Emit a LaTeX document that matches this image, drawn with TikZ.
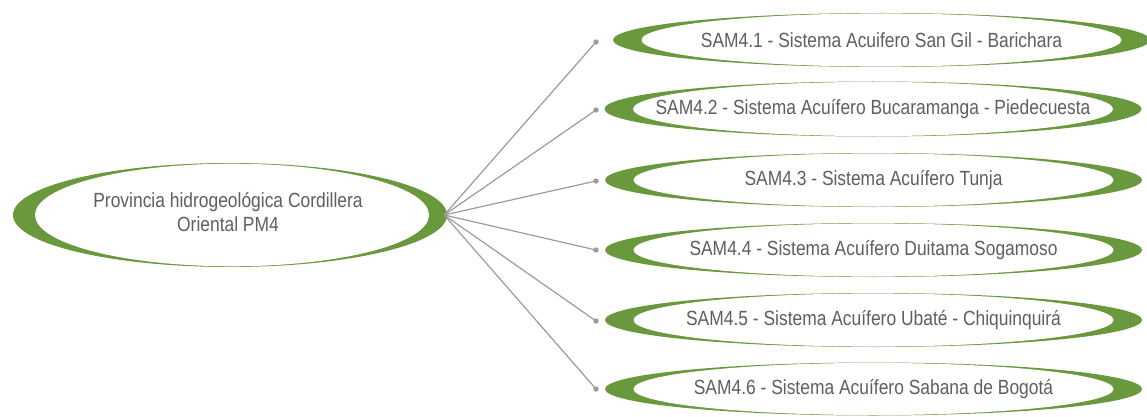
\documentclass[tikz,border=0pt]{standalone}
\usepackage{fontspec}
\setmainfont{Liberation Sans}
\newfontfamily\lblfont[FakeStretch=0.85]{Liberation Sans}
\usetikzlibrary{shapes.geometric}
\definecolor{leaf}{RGB}{106,152,60}
\definecolor{txtgray}{RGB}{95,95,95}
\definecolor{linegray}{RGB}{155,155,155}
\tikzset{
  ring/.style n args={5}{ellipse, fill=leaf, draw=none, inner sep=0pt,
    minimum width=#1, minimum height=#2,
    path picture={\fill[white] ([xshift=#5]path picture bounding box.center)
      ellipse [x radius=#3, y radius=#4];}},
  lbl/.style={font=\lblfont\fontsize{20.5pt}{24pt}\selectfont, text=txtgray,
    align=center, inner sep=0pt},
  conn/.style={draw=linegray, line width=1.2pt},
  dot/.style={fill=linegray},
}
\begin{document}
\begin{tikzpicture}[x=1pt,y=-1pt]
\useasboundingbox (0,0) rectangle (1147,417);
% root
\node[ring={434pt}{104pt}{197pt}{51.3pt}{2pt}] (root) at (230,215) {};
\node[lbl] (roott) at (228,212) {Provincia hidrogeológica Cordillera\\Oriental PM4};
% children
\node[ring={537pt}{54pt}{240pt}{26.6pt}{0pt}] (s1) at (881.5,40) {};
\node[ring={537pt}{55pt}{240pt}{27.1pt}{0pt}] (s2) at (873,109) {};
\node[ring={537pt}{54pt}{240pt}{26.6pt}{0pt}] (s3) at (873.5,180) {};
\node[ring={537pt}{54pt}{240pt}{26.6pt}{0pt}] (s4) at (873.5,250) {};
\node[ring={537pt}{54pt}{240pt}{26.6pt}{0pt}] (s5) at (873.5,320) {};
\node[ring={537pt}{53pt}{240pt}{26.1pt}{0pt}] (s6) at (873.5,389) {};
\node[lbl] (t1) at (s1) {SAM4.1 - Sistema Acuifero San Gil - Barichara};
\node[lbl] (t2) at (s2) {SAM4.2 - Sistema Acuífero Bucaramanga - Piedecuesta};
\node[lbl] (t3) at (s3) {SAM4.3 - Sistema Acuífero Tunja};
\node[lbl] (t4) at (s4) {SAM4.4 - Sistema Acuífero Duitama Sogamoso};
\node[lbl] (t5) at (s5) {SAM4.5 - Sistema Acuífero Ubaté - Chiquinquirá};
\node[lbl] (t6) at (s6) {SAM4.6 - Sistema Acuífero Sabana de Bogotá};
% connector ends
\coordinate (d1) at (596,42);
\coordinate (d2) at (596,110);
\coordinate (d3) at (596,181);
\coordinate (d4) at (596,250);
\coordinate (d5) at (596,321);
\coordinate (d6) at (596,389);
\foreach \i in {1,...,6}{
  \draw[conn] ([xshift=-3pt]root.east) -- (d\i);
  \fill[dot] (d\i) circle (2.7);
}
\end{tikzpicture}
\end{document}
